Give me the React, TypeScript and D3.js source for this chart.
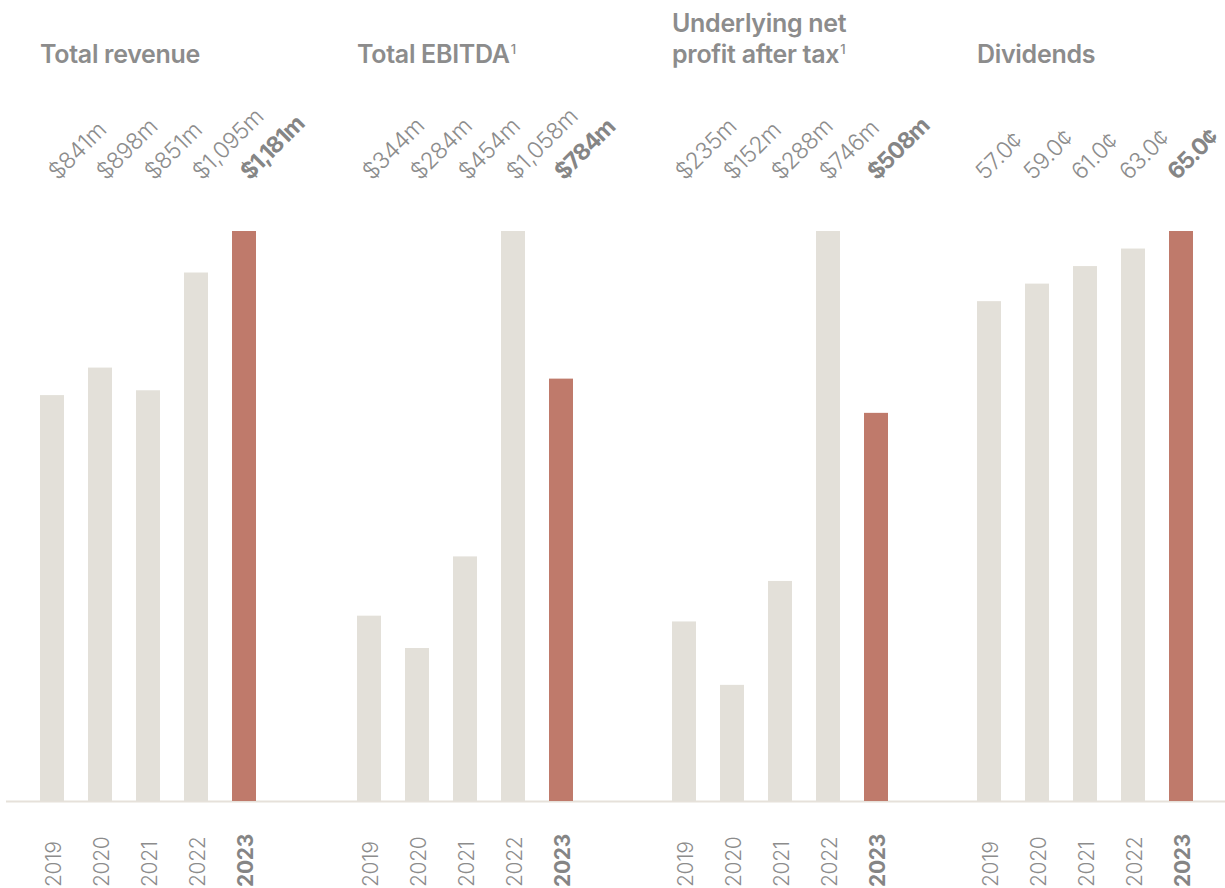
import React from "react";
import * as d3 from "d3";

// Financial summary: four small bar panels sharing one baseline
const years = ["2019", "2020", "2021", "2022", "2023"];

const revenue = [841, 898, 851, 1095, 1181];
const revenueLabels = ["$841m", "$898m", "$851m", "$1,095m", "$1,181m"];

const ebitda = [344, 284, 454, 1058, 784];
const ebitdaLabels = ["$344m", "$284m", "$454m", "$1,058m", "$784m"];

const npat = [235, 152, 288, 746, 508];
const npatLabels = ["$235m", "$152m", "$288m", "$746m", "$508m"];

const dividends = [57.0, 59.0, 61.0, 63.0, 65.0];
const dividendLabels = ["57.0¢", "59.0¢", "61.0¢", "63.0¢", "65.0¢"];

const titles: { lines: string[]; sup: boolean }[] = [
  { lines: ["Total revenue"], sup: false },
  { lines: ["Total EBITDA"], sup: true },
  { lines: ["Underlying net", "profit after tax"], sup: true },
  { lines: ["Dividends"], sup: false },
];

const panelValues = [revenue, ebitda, npat, dividends];
const panelLabels = [revenueLabels, ebitdaLabels, npatLabels, dividendLabels];

// layout
const W = 1225;
const H = 888;
const panelX = [40, 357, 672, 977];
const labelDx = [6, 3, 1, -4];
const STEP = 48;
const BASE_Y = 801;
const TOP_Y = 231;

const GREY_BAR = "#e3e0d9";
const HIGHLIGHT = "#bf7a6b";
const TEXT = "#8c8c8c";
const TEXT_BOLD = "#858585";
const FONT = "Inter, Roboto, 'Liberation Sans', Arial, sans-serif";

export default function App() {
  return (
    <svg
      width={W}
      height={H}
      viewBox={`0 0 ${W} ${H}`}
      style={{ position: "absolute", left: 0, top: 0, background: "#fff" }}
      fontFamily={FONT}
    >
      <line x1={6} x2={W} y1={BASE_Y + 0.5} y2={BASE_Y + 0.5} stroke="#e6e1da" strokeWidth={2} />
      {panelValues.map((values, p) => {
        const x = d3
          .scaleBand<string>()
          .domain(years)
          .range([panelX[p], panelX[p] + STEP * 4.5])
          .paddingInner(0.5)
          .paddingOuter(0)
          .align(0);
        const y = d3
          .scaleLinear()
          .domain([0, d3.max(values) as number])
          .range([BASE_Y, TOP_Y]);
        const bw = x.bandwidth();
        const t = titles[p];
        const lastLineY = 63;
        const lineH = 31;
        return (
          <g key={p}>
            {t.lines.map((ln, i) => (
              <text
                key={i}
                x={panelX[p]}
                y={lastLineY - (t.lines.length - 1 - i) * lineH}
                fontSize={25}
                fontWeight={600}
                fill={TEXT}
                letterSpacing={-0.3}
              >
                {ln}
                {t.sup && i === t.lines.length - 1 ? (
                  <tspan fontSize={13} dy={-9} dx={1} fontWeight={500}>
                    1
                  </tspan>
                ) : null}
              </text>
            ))}
            {values.map((v, i) => {
              const yr = years[i];
              const cx = (x(yr) as number) + bw / 2;
              const last = i === values.length - 1;
              return (
                <g key={yr}>
                  <rect
                    x={x(yr)}
                    y={y(v)}
                    width={bw}
                    height={BASE_Y - y(v)}
                    fill={last ? HIGHLIGHT : GREY_BAR}
                  />
                  <text
                    transform={`translate(${cx + labelDx[p]},181) rotate(-45)`}
                    fontSize={23}
                    fontWeight={last ? 700 : 300}
                    fill={last ? TEXT_BOLD : TEXT}
                    letterSpacing={last ? -1.1 : -0.3}
                  >
                    {panelLabels[p][i]}
                  </text>
                  <text
                    transform={`translate(${cx + 8.5},887) rotate(-90)`}
                    textAnchor="start"
                    fontSize={21}
                    fontWeight={last ? 700 : 300}
                    fill={last ? TEXT_BOLD : TEXT}
                    letterSpacing={-0.3}
                  >
                    {yr}
                  </text>
                </g>
              );
            })}
          </g>
        );
      })}
    </svg>
  );
}
